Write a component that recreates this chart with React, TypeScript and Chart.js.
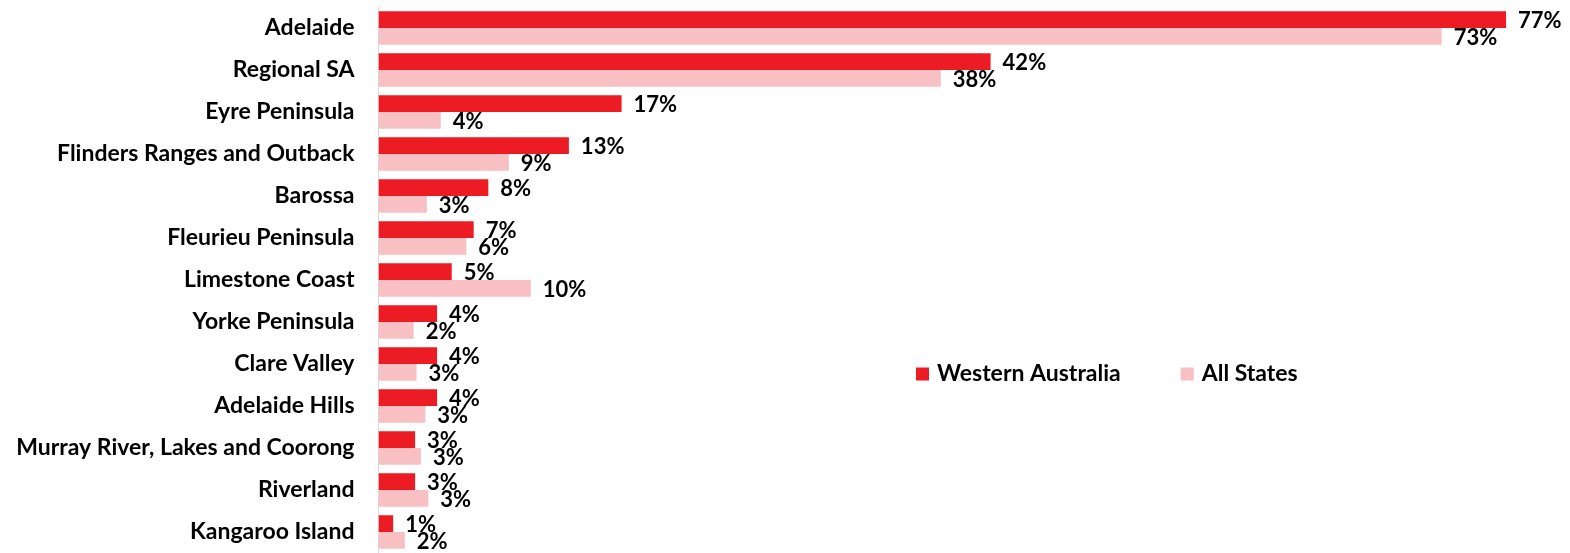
import React, { useEffect, useRef } from "react";
import { Chart, registerables } from "chart.js";

Chart.register(...registerables);

const categories = [
  "Adelaide",
  "Regional SA",
  "Eyre Peninsula",
  "Flinders Ranges and Outback",
  "Barossa",
  "Fleurieu Peninsula",
  "Limestone Coast",
  "Yorke Peninsula",
  "Clare Valley",
  "Adelaide Hills",
  "Murray River, Lakes and Coorong",
  "Riverland",
  "Kangaroo Island",
];

const westernAustralia = [77.0, 41.8, 16.6, 13.0, 7.5, 6.5, 5.0, 4.0, 4.0, 4.0, 2.5, 2.5, 1.0];
const allStates = [72.6, 38.4, 4.25, 8.9, 3.3, 6.0, 10.4, 2.4, 2.6, 3.2, 2.9, 3.4, 1.8];

const seriesNames = ["Western Australia", "All States"];
const seriesColors = ["#ED1C24", "#F9C0C4"];

const FONT = "Lato, 'Open Sans', sans-serif";

const labelPlugin = {
  id: "barValueLabels",
  afterDatasetsDraw(chart: any) {
    const ctx = chart.ctx;
    ctx.save();
    ctx.font = `bold 22px ${FONT}`;
    ctx.fillStyle = "#000";
    ctx.textAlign = "left";
    ctx.textBaseline = "middle";
    chart.data.datasets.forEach((ds: any, di: number) => {
      const meta = chart.getDatasetMeta(di);
      meta.data.forEach((el: any, i: number) => {
        const v = ds.data[i];
        ctx.fillText(`${Math.round(v)}%`, el.x + 12, el.y + 1.5);
      });
    });
    ctx.restore();
  },
};

const legendPlugin = {
  id: "insideLegend",
  afterDraw(chart: any) {
    const ctx = chart.ctx;
    const area = chart.chartArea;
    ctx.save();
    ctx.font = `bold 23px ${FONT}`;
    ctx.textAlign = "left";
    ctx.textBaseline = "middle";
    let x = area.left + 537.5;
    const y = area.top + 367;
    chart.data.datasets.forEach((ds: any) => {
      ctx.fillStyle = ds.backgroundColor;
      ctx.fillRect(x, y - 6.5, 13, 13);
      ctx.fillStyle = "#000";
      ctx.fillText(ds.label, x + 21, y);
      x += 21 + ctx.measureText(ds.label).width + 60;
    });
    ctx.restore();
  },
};

export default function App() {
  const ref = useRef<HTMLCanvasElement | null>(null);

  useEffect(() => {
    if (!ref.current) return;
    const chart = new Chart(ref.current, {
      type: "bar",
      data: {
        labels: categories,
        datasets: [
          {
            label: seriesNames[0],
            data: westernAustralia,
            backgroundColor: seriesColors[0],
            categoryPercentage: 0.8,
            barPercentage: 1.0,
          },
          {
            label: seriesNames[1],
            data: allStates,
            backgroundColor: seriesColors[1],
            categoryPercentage: 0.8,
            barPercentage: 1.0,
          },
        ],
      },
      options: {
        indexAxis: "y",
        animation: false,
        responsive: true,
        maintainAspectRatio: false,
        layout: { padding: { top: 7, bottom: 0, left: 0, right: 20 } },
        plugins: {
          legend: { display: false },
          tooltip: { enabled: false },
        },
        scales: {
          x: {
            display: false,
            min: 0,
            max: 80,
          },
          y: {
            grid: { display: false, drawTicks: false },
            border: { display: true, color: "#D9D9D9", width: 1 },
            ticks: {
              color: "#000",
              padding: 24,
              font: { family: FONT, size: 23, weight: "bold" },
            },
            afterFit: (scale: any) => {
              scale.width = 378.5;
              scale.paddingTop = 0;
              scale.paddingBottom = 0;
            },
          },
        },
      },
      plugins: [labelPlugin, legendPlugin],
    });
    return () => chart.destroy();
  }, []);

  return (
    <div style={{ position: "absolute", left: 0, top: 0, width: 1570, height: 553, background: "#fff" }}>
      <canvas ref={ref} />
    </div>
  );
}
